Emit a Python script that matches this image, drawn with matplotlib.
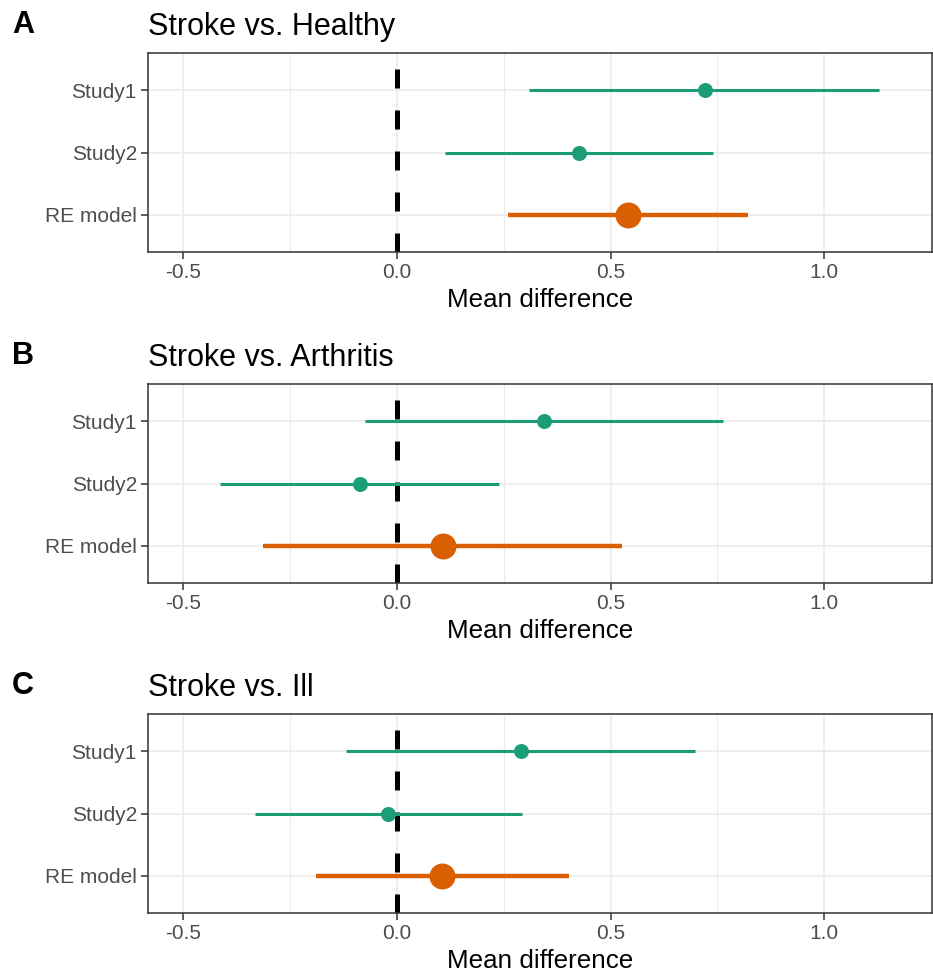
import matplotlib
matplotlib.use("Agg")
import matplotlib.pyplot as plt

plt.rcParams['font.family'] = ['Liberation Sans', 'DejaVu Sans']

labels = ["Study1", "Study2", "RE model"]
titles = ["Stroke vs. Healthy", "Stroke vs. Arthritis", "Stroke vs. Ill"]
letters = ["A", "B", "C"]

# estimate, lower CI, upper CI per row (Study1, Study2, RE model)
est = [[0.72, 0.426, 0.542],
       [0.344, -0.087, 0.108],
       [0.29, -0.021, 0.106]]
lower = [[0.31, 0.113, 0.261],
         [-0.075, -0.413, -0.312],
         [-0.118, -0.331, -0.189]]
upper = [[1.128, 0.739, 0.821],
         [0.764, 0.238, 0.527],
         [0.698, 0.292, 0.403]]

green = "#1B9E77"
orange = "#D95F02"
grid_c = "#EBEBEB"
dark = "#333333"

fig = plt.figure(figsize=(9.33, 9.77), dpi=100)
W, H = 933, 977
left, right = 148, 932
tops = [53, 384, 714]
ph = 199

ypos = [3, 2, 1]

for i in range(3):
    top = tops[i]
    ax = fig.add_axes([left / W, 1 - (top + ph) / H, (right - left) / W, ph / H])
    ax.set_xlim(-0.582, 1.252)
    ax.set_ylim(0.4, 3.6)

    for xv in [-0.25, 0.25, 0.75]:
        ax.axvline(xv, color=grid_c, lw=0.8, zorder=0)
    for xv in [-0.5, 0.0, 0.5, 1.0]:
        ax.axvline(xv, color=grid_c, lw=1.2, zorder=0)
    for yv in ypos:
        ax.axhline(yv, color=grid_c, lw=1.2, zorder=0)

    ax.axvline(0, color="black", lw=3.6, linestyle=(0, (3.8, 4.4)), zorder=2)

    for j in range(3):
        if j < 2:
            c, lw, ms = green, 2.2, 10.8
        else:
            c, lw, ms = orange, 3.2, 18.7
        ax.plot([lower[i][j], upper[i][j]], [ypos[j], ypos[j]], color=c, lw=lw,
                solid_capstyle="butt", zorder=3)
        ax.plot([est[i][j]], [ypos[j]], "o", color=c, ms=ms, mec="none", zorder=4)

    ax.set_yticks(ypos)
    ax.set_yticklabels(labels)
    ax.set_xticks([-0.5, 0.0, 0.5, 1.0])
    ax.set_xticklabels(["-0.5", "0.0", "0.5", "1.0"])
    ax.tick_params(axis="both", length=5, width=1.1, color=dark,
                   labelsize=15, labelcolor="#4D4D4D", pad=3)
    for s in ax.spines.values():
        s.set_color(dark)
        s.set_linewidth(1.1)
    ax.set_xlabel("Mean difference", fontsize=18.7, labelpad=4)
    ax.set_title(titles[i], loc="left", fontsize=22, pad=13)
    fig.text(12 / W, 1 - (top - 20) / H, letters[i], fontsize=22,
             fontweight="bold", va="baseline", ha="left")

fig.savefig("out.png", dpi=100)
